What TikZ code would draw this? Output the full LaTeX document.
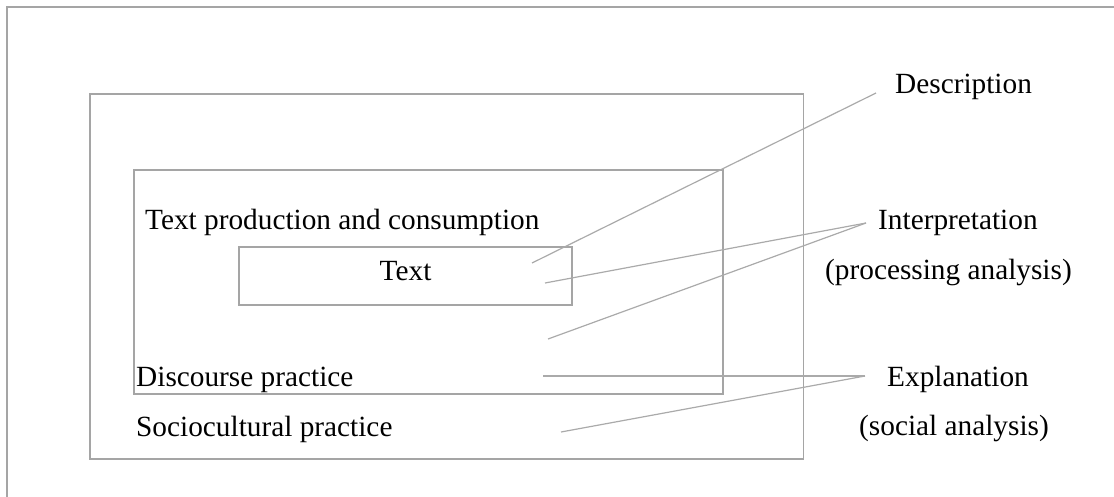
\documentclass[tikz,border=0pt]{standalone}
\usepackage{fontspec}
\setmainfont{Liberation Serif}
\usepackage{tikz}
\usetikzlibrary{positioning}
\definecolor{boxgray}{RGB}{165,165,165}
\definecolor{linkgray}{RGB}{170,170,170}

\begin{document}
\begin{tikzpicture}[x=1pt, y=-1pt]
	\tikzstyle{frame} = [draw=boxgray, line width=1.8pt, rectangle,
	anchor=north west, inner sep=0pt]
	\tikzstyle{words} = [anchor=base west, inner sep=0pt,
	font=\fontsize{29.3}{35}\selectfont]
	\tikzstyle{link} = [draw=linkgray, line width=1.2pt]

	\useasboundingbox (0,0) rectangle (1114,496);
	\draw[boxgray, line width=1.8pt] (7,530) |- (1130,7);

	\begin{scope}
		\path
			node[frame, minimum width=713.5pt, minimum height=365pt] (social) at (89,93) {}
			node[frame, minimum width=589.3pt, minimum height=224.6pt] (discourse) at (132.7,168.7) {}
			node[frame, minimum width=332.7pt, minimum height=58.6pt,
				font=\fontsize{29.3}{35}\selectfont, text depth=10pt] (text) at (238.3,245.7) {Text}

			node[words] (production) at (145,229) {Text production and consumption}
			node[words] (practice) at (136,386) {Discourse practice}
			node[words] (culture) at (136,436) {Sociocultural practice}

			node[words] (description) at (895,93) {Description}
			node[words] (interpretation) at (878,229) {Interpretation}
			node[words] (processing) at (825,279) {(processing analysis)}
			node[words] (explanation) at (887,386) {Explanation}
			node[words] (socialanalysis) at (859,435) {(social analysis)}
		;

		\coordinate (descA) at (532,263);
		\coordinate (descHub) at (876,93);
		\coordinate (interpA) at (545,283);
		\coordinate (interpB) at (548,339);
		\coordinate (interpHub) at (866,223);
		\coordinate (explA) at (543,376);
		\coordinate (explB) at (561,432);
		\coordinate (explHub) at (865,376);

		\path[link]
			(descA) edge (descHub)
			(interpA) edge (interpHub)
			(interpB) edge (interpHub)
			(explA) edge (explHub)
			(explB) edge (explHub)
		;
	\end{scope}
\end{tikzpicture}
\end{document}
